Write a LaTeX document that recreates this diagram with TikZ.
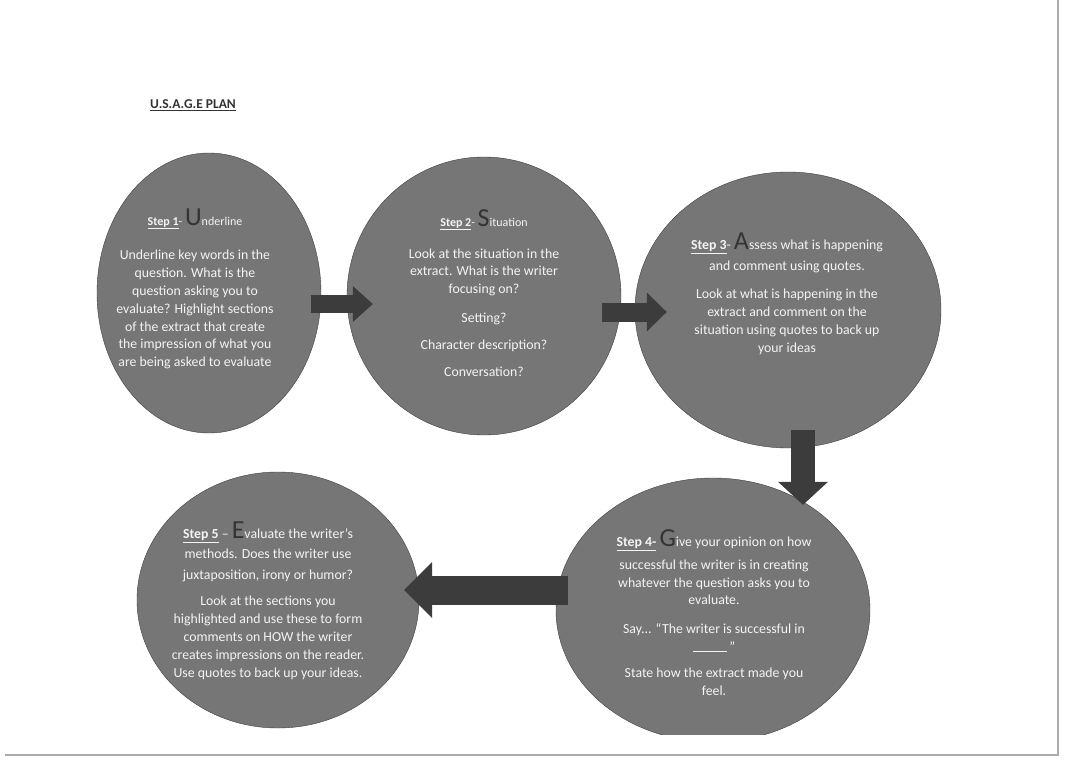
\documentclass[tikz,border=0pt]{standalone}
\usepackage{fontspec}
\setmainfont{Carlito}
\usetikzlibrary{shapes.geometric,arrows.meta}

\definecolor{circgray}{RGB}{118,118,118}
\definecolor{arrowgray}{RGB}{60,60,60}
\definecolor{letgray}{RGB}{52,52,52}
\definecolor{textwhite}{RGB}{244,244,244}
\newcommand{\initial}[1]{\smash{\textcolor{letgray}{\fontsize{26}{26}\selectfont #1}}}
\newcommand{\steplabel}[1]{\underline{\textbf{#1}}}
\newcommand{\smalltitle}{\fontsize{12}{17.8}\selectfont}

\begin{document}
\begin{tikzpicture}[x=1pt,y=-1pt,
    stepcircle/.style={ellipse,draw=black!75,fill=circgray,inner sep=0pt},
    steptext/.style={text=textwhite,align=center,inner sep=0pt,font=\fontsize{13.8}{17.8}\selectfont},
    blockarrow/.style n args={3}{draw=arrowgray,line width=#1,-{Triangle[length=#2,width=#3,line width=0pt]}},
  pageedge/.style={draw=gray!65,line width=1.2pt}]
  \path[use as bounding box,fill=white] (0,0) rectangle (1080,763);
  \draw[pageedge] (5,755) -- (1058,755) -- (1058,0);

  \path
  (209,293) node[stepcircle,minimum width=224,minimum height=280] (c1) {}
  (484,296) node[stepcircle,minimum width=274,minimum height=278] (c2) {}
  (788,310) node[stepcircle,minimum width=306,minimum height=276] (c3) {}
  (278,600) node[stepcircle,minimum width=282,minimum height=256] (c5) {};
  \begin{scope}
    \clip (0,0) rectangle (1080,734);
    \node[stepcircle,minimum width=314,minimum height=264] (c4) at (713,610) {};
  \end{scope}

  \node[font=\fontsize{13.5}{15}\selectfont\bfseries,text=black!80] (title) at (193,105) {\underline{U.S.A.G.E PLAN}};

  \node[steptext] (t1) at (195,293) {{\smalltitle\steplabel{Step 1}- \initial{U}nderline}\\[17pt]
    Underline key words in the\\ question. What is the\\ question asking you to\\
    evaluate? Highlight sections\\ of the extract that create\\
    the impression of what you\\ are being asked to evaluate};

  \node[steptext] (t2) at (484,297) {{\smalltitle\steplabel{Step 2}- \initial{S}ituation}\\[14pt]
    Look at the situation in the\\ extract. What is the writer\\ focusing on?\\[11pt]
    Setting?\\[9pt] Character description?\\[9pt] Conversation?};

  \node[steptext] (t3) at (787,297) {\steplabel{Step 3}- \initial{A}ssess what is happening\\[4pt]
    and comment using quotes.\\[10pt]
    Look at what is happening in the\\ extract and comment on the\\
    situation using quotes to back up\\ your ideas};

  \node[steptext] (t4) at (714,616) {\steplabel{Step 4-} \initial{G}ive your opinion on how\\[5pt]
    successful the writer is in creating\\ whatever the question asks you to\\ evaluate.\\[11pt]
    Say... “The writer is successful in\\ \rule{34pt}{0.8pt}\,”\\[8pt]
    State how the extract made you\\ feel.};

  \node[steptext] (t5) at (268,604) {\steplabel{Step 5} – \initial{E}valuate the writer’s\\[2pt]
    methods. Does the writer use\\[3pt] juxtaposition, irony or humor?\\[9pt]
    Look at the sections you\\ highlighted and use these to form\\
    comments on HOW the writer\\ creates impressions on the reader.\\
    Use quotes to back up your ideas.};

  \draw[blockarrow={18pt}{20pt}{36pt}] ([shift={(-10,11)}]c1.east) -- ([shift={(26,8)}]c2.west);
  \draw[blockarrow={19pt}{20pt}{39pt}] ([shift={(-19,16)}]c2.east) -- ([shift={(32,2)}]c3.west);
  \draw[blockarrow={24pt}{23pt}{50pt}] ([shift={(15,-18)}]c3.south) -- ([shift={(90,27)}]c4.north);
  \draw[blockarrow={29pt}{28pt}{56pt}] ([shift={(12,-20)}]c4.west) -- ([shift={(-15,-10)}]c5.east);
\end{tikzpicture}
\end{document}
